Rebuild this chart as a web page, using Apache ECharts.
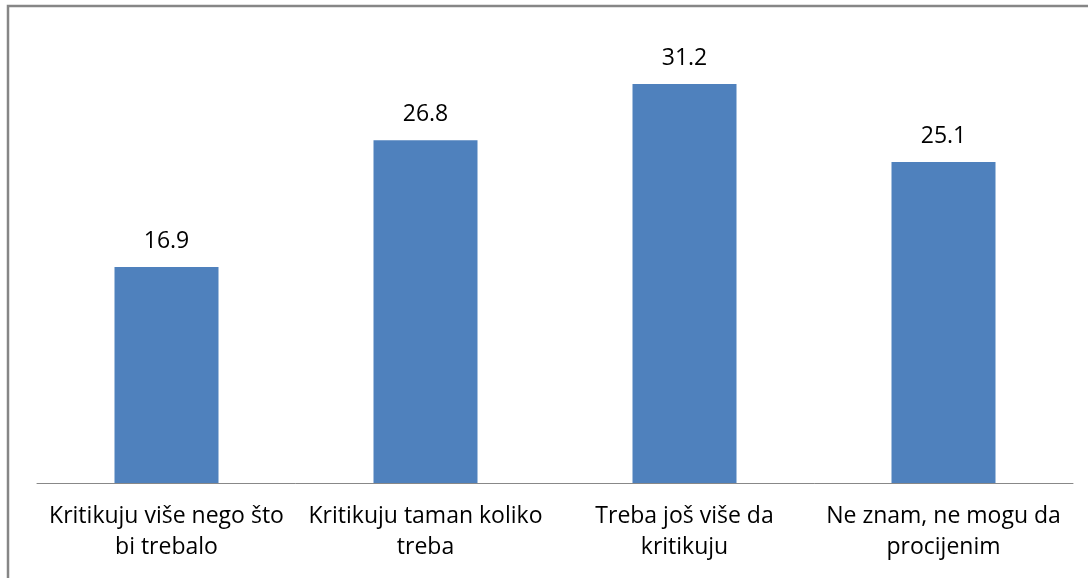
<!DOCTYPE html>
<html>
<head>
<meta charset="utf-8">
<style>
  html, body { margin: 0; padding: 0; background: #fff; }
  #chart { width: 1088px; height: 578px; }
</style>
<script src="https://cdn.jsdelivr.net/npm/echarts@6/dist/echarts.min.js"></script>
</head>
<body>
<div id="chart"></div>
<script>
// Answer categories (two-line labels) and shares in percent
const categories = [
  'Kritikuju više nego što\nbi trebalo',
  'Kritikuju taman koliko\ntreba',
  'Treba još više da\nkritikuju',
  'Ne znam, ne mogu da\nprocijenim'
];
const values = [16.9, 26.8, 31.2, 25.1];

const FONT = '"Open Sans", Roboto, sans-serif';

const chart = echarts.init(document.getElementById('chart'), null, { renderer: 'canvas' });

chart.setOption({
  animation: false,
  backgroundColor: '#ffffff',
  graphic: [{
    // outer frame; right and bottom edges run past the canvas
    type: 'rect',
    shape: { x: 8, y: 6, width: 1200, height: 700 },
    style: { fill: 'none', stroke: '#868686', lineWidth: 2.5 },
    silent: true
  }],
  grid: { left: 37, right: 15, top: 35.5, bottom: 95, containLabel: false },
  xAxis: {
    type: 'category',
    data: categories,
    axisLine: { show: true, lineStyle: { color: '#888888', width: 1 } },
    axisTick: { show: false },
    axisLabel: {
      interval: 0,
      margin: 18,
      color: '#000000',
      fontFamily: FONT,
      fontSize: 23,
      lineHeight: 31,
      align: 'center'
    }
  },
  yAxis: {
    type: 'value',
    min: 0,
    max: 35,
    show: false,
    splitLine: { show: false }
  },
  series: [{
    type: 'bar',
    data: values,
    barWidth: 104,
    itemStyle: { color: '#4F81BD' },
    label: {
      show: true,
      position: 'top',
      distance: 14,
      color: '#000000',
      fontFamily: FONT,
      fontSize: 23,
      formatter: (p) => p.value.toFixed(1)
    }
  }]
});
</script>
</body>
</html>
